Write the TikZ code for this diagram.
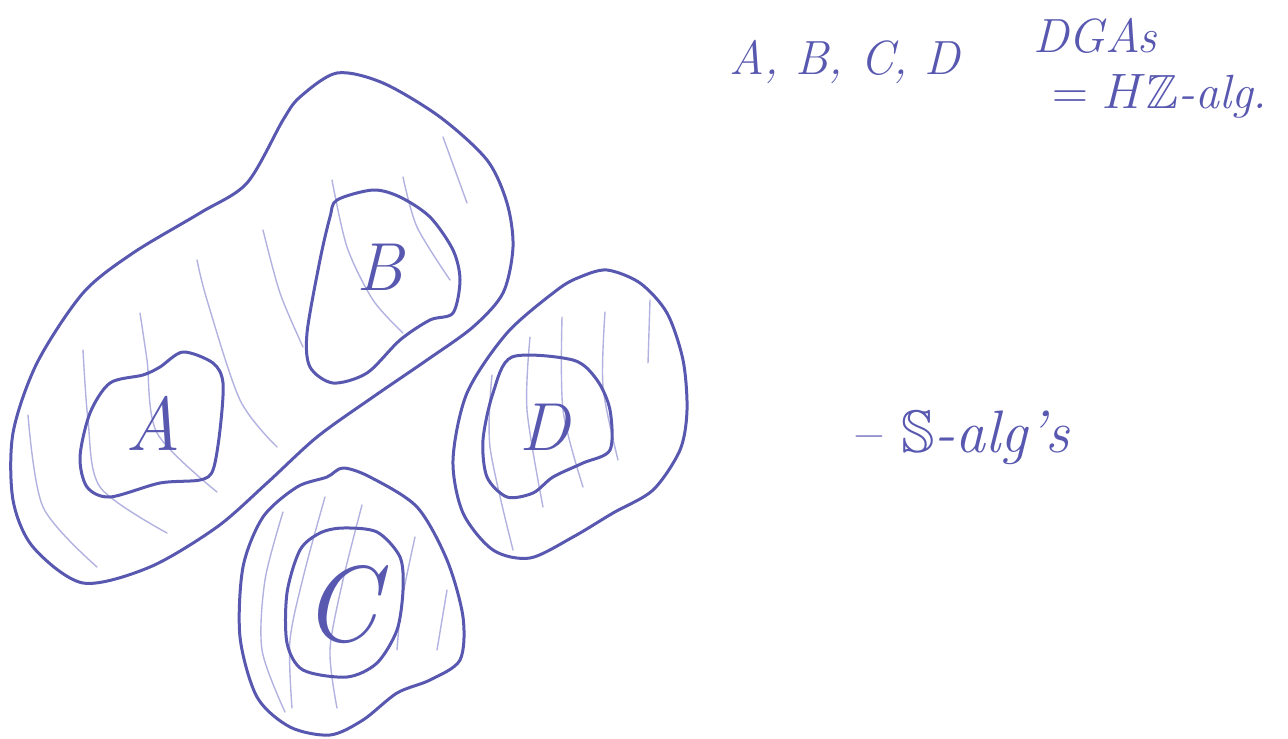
\documentclass[tikz,border=0pt]{standalone}
\usepackage{amssymb}
\usepackage{fontspec}
\usepackage{xcolor}
\usepackage{tikz}
\usetikzlibrary{positioning}
\definecolor{ink}{RGB}{88,88,176}
\definecolor{inklight}{RGB}{178,178,224}

\begin{document}
\begin{tikzpicture}[
  x=0.5pt, y=-0.5pt,
  outline/.style={draw=ink, line width=1.5pt, line join=round},
  hatch/.style={draw=inklight, line width=0.7pt, line cap=round},
  letter/.style={text=ink, inner sep=0pt, font=\fontsize{34}{40}\selectfont\itshape},
  note/.style={text=ink, inner sep=0pt, font=\fontsize{24}{30}\selectfont\itshape}
]
\useasboundingbox (0,0) rectangle (1288,738);

% hatching
\foreach \pts in {
  {(263,230) (280,293) (303,347)},
  {(197,260) (207,300) (240,400) (277,447)},
  {(140,313) (147,360) (157,433) (217,492)},
  {(83,350) (88,420) (100,487) (167,533)},
  {(28,415) (43,507) (97,567)},
  {(332,180) (347,247) (373,300) (403,333)},
  {(403,177) (417,227) (450,280)},
  {(443,137) (467,203)},
  {(283,512) (265,580) (262,650) (285,712)},
  {(325,497) (305,570) (290,640) (292,708)},
  {(362,505) (343,580) (330,650) (337,708)},
  {(415,537) (402,600) (397,650)},
  {(447,590) (437,650)},
  {(492,375) (490,447) (513,550)},
  {(530,337) (527,410) (543,507)},
  {(562,317) (563,410) (583,487)},
  {(605,312) (603,387) (618,460)},
  {(650,300) (648,363)}}
  \draw[hatch] plot[smooth] coordinates {\pts};

% outlines
\draw[outline] plot[smooth cycle] coordinates {(337,73) (383,83) (440,117) (487,160) (507,203) (513,247) (503,293) (473,327) (427,360) (373,397) (317,437) (267,483) (217,527) (150,567) (83,583) (33,547) (13,500) (13,433) (37,363) (83,293) (133,253) (200,213) (247,183) (283,120) (300,97)};
\draw[outline] plot[smooth cycle] coordinates {(337,200) (373,190) (400,197) (430,217) (453,250) (460,280) (453,313) (430,320) (400,340) (367,373) (333,383) (310,367) (307,333) (320,260) (330,217)};
\draw[outline] plot[smooth cycle] coordinates {(183,352) (213,363) (223,383) (220,430) (213,470) (200,480) (160,483) (110,497) (87,487) (80,457) (90,413) (110,383) (143,375) (160,367)};
\draw[outline] plot[smooth cycle] coordinates {(343,468) (370,477) (417,507) (447,560) (463,617) (460,660) (430,680) (397,693) (363,720) (330,735) (290,727) (257,697) (240,637) (243,567) (263,517) (297,487) (327,477)};
\draw[outline] plot[smooth cycle] coordinates {(343,528) (377,532) (400,557) (403,590) (397,630) (377,663) (347,677) (303,670) (287,643) (287,593) (300,550) (320,533)};
\draw[outline] plot[smooth cycle] coordinates {(607,270) (640,283) (667,313) (683,360) (687,410) (680,450) (653,490) (613,513) (573,537) (530,558) (493,550) (463,513) (453,460) (467,393) (507,333) (557,290) (580,277)};
\draw[outline] plot[smooth cycle] coordinates {(512,357) (573,360) (597,380) (610,410) (610,450) (583,463) (553,477) (533,493) (507,497) (487,477) (483,440) (493,393)};

% labels
\node[letter, font=\fontsize{38}{44}\selectfont\itshape] (A) at (153,423) {A};
\node[letter] (B) at (380,267) {B};
\node[letter, font=\fontsize{54}{60}\selectfont\itshape] (C) at (340,605) {C};
\node[letter] (D) at (545,427) {D};

\node[note] (list) at (845,62) {A, B, C, D};
\node[note] (dgas) at (1095,36) {DGAs};
\node[note] (hz) at (1160,96) {$=H\mathbb{Z}$-alg.};
\node[note, font=\fontsize{30}{36}\selectfont\itshape] (salg) at (960,438) {-- $\mathbb{S}$-alg's};
\end{tikzpicture}
\end{document}
